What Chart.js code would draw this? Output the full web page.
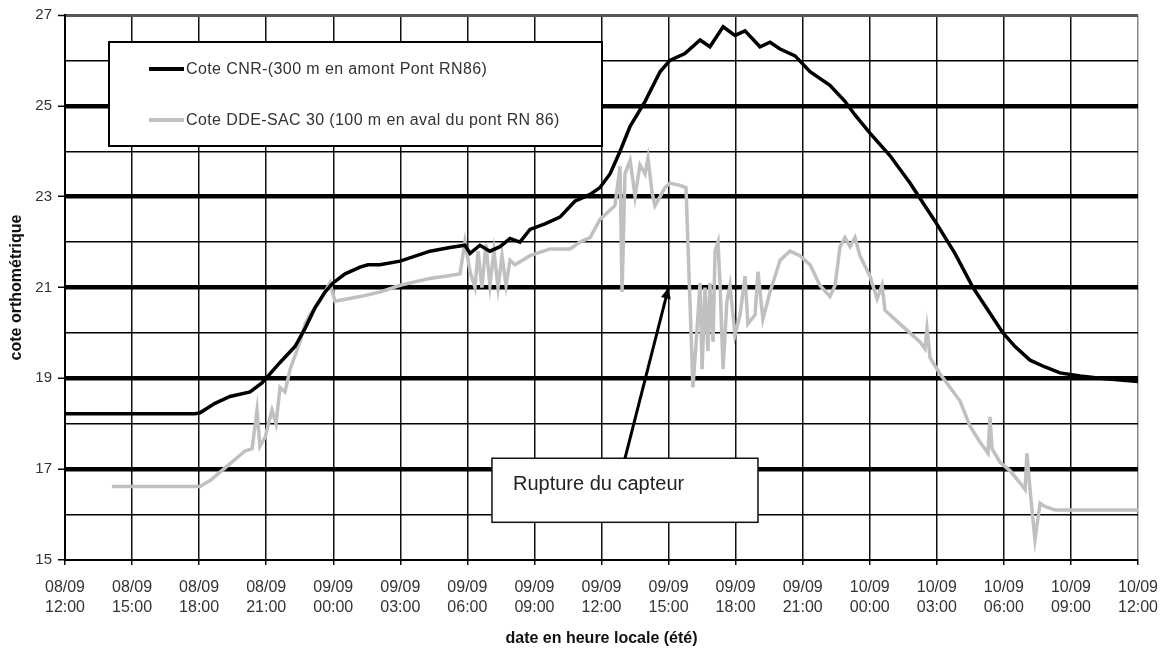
<!DOCTYPE html>
<html>
<head>
<meta charset="utf-8">
<script src="https://cdn.jsdelivr.net/npm/chart.js"></script>
<style>
  html, body { margin: 0; padding: 0; background: #fff; }
  #wrap { width: 1173px; height: 648px; }
</style>
</head>
<body>
<div id="wrap"><canvas id="c" width="1173" height="648"></canvas></div>
<script>
// ---- DATA (hours since 08/09 12:00, levels in m) ----
const xTickLabels = [
  ["08/09","12:00"],["08/09","15:00"],["08/09","18:00"],["08/09","21:00"],
  ["09/09","00:00"],["09/09","03:00"],["09/09","06:00"],["09/09","09:00"],
  ["09/09","12:00"],["09/09","15:00"],["09/09","18:00"],["09/09","21:00"],
  ["10/09","00:00"],["10/09","03:00"],["10/09","06:00"],["10/09","09:00"],
  ["10/09","12:00"]
];
const yTickLabels = ["15","17","19","21","23","25","27"];

const cnrLabel = "Cote CNR-(300 m en amont Pont RN86)";
const cnrHours = [0.00,5.82,6.04,6.71,7.38,8.28,8.81,9.17,9.62,10.29,10.74,11.18,11.63,11.99,12.53,12.75,13.20,13.55,14.09,14.99,16.33,17.22,17.89,18.12,18.56,19.01,19.46,19.91,20.35,20.80,21.47,22.14,22.81,23.49,23.93,24.38,24.83,25.28,25.95,26.62,27.06,27.73,28.41,28.85,29.44,29.97,30.42,31.09,31.54,31.99,32.66,33.33,34.22,34.89,35.34,36.01,36.91,37.80,38.92,39.81,40.62,41.29,41.96,42.50,43.17,43.84,44.51,45.41,46.30,48.00];
const cnrLevels = [18.22,18.22,18.24,18.45,18.60,18.70,18.90,19.10,19.35,19.70,20.10,20.55,20.90,21.10,21.30,21.35,21.45,21.50,21.50,21.58,21.80,21.88,21.93,21.75,21.93,21.80,21.90,22.08,22.00,22.28,22.40,22.55,22.90,23.05,23.20,23.50,24.00,24.55,25.10,25.75,26.00,26.15,26.45,26.30,26.74,26.55,26.65,26.30,26.40,26.25,26.10,25.75,25.45,25.10,24.80,24.40,23.90,23.30,22.46,21.75,21.00,20.50,20.00,19.70,19.40,19.25,19.12,19.05,19.00,18.93];

const ddeLabel = "Cote DDE-SAC 30 (100 m en aval du pont RN 86)";
const ddeHours = [2.10,6.04,6.49,7.07,8.05,8.37,8.59,8.72,8.95,9.26,9.44,9.62,9.84,10.07,10.51,10.74,10.96,11.41,11.85,12.08,13.20,14.09,14.99,16.33,17.67,17.89,18.12,18.34,18.48,18.65,18.83,19.01,19.19,19.37,19.55,19.73,19.91,20.13,20.80,21.70,22.59,23.04,23.49,23.93,24.60,24.83,24.92,25.05,25.28,25.50,25.72,25.95,26.08,26.26,26.39,26.62,26.84,27.06,27.51,27.78,28.09,28.27,28.41,28.50,28.63,28.76,28.85,28.99,29.08,29.21,29.30,29.44,29.61,29.75,29.97,30.20,30.42,30.55,30.87,31.00,31.22,31.54,31.99,32.43,32.88,33.33,33.77,34.22,34.45,34.67,34.89,35.12,35.34,35.56,36.01,36.33,36.55,36.68,37.35,38.25,38.47,38.56,38.70,39.14,40.04,40.48,40.93,41.29,41.38,41.47,41.83,42.27,42.72,42.95,43.03,43.17,43.39,43.62,43.84,44.29,48.00];
const ddeLevels = [16.62,16.62,16.75,16.99,17.40,17.45,18.30,17.50,17.70,18.30,18.00,18.80,18.70,19.20,19.80,20.20,20.40,20.70,21.10,20.70,20.80,20.90,21.05,21.20,21.30,22.00,21.35,21.00,21.80,21.00,21.95,21.05,21.80,21.00,21.70,21.05,21.60,21.50,21.70,21.85,21.85,22.00,22.10,22.50,22.80,23.67,20.90,23.50,23.80,23.00,23.70,23.50,23.85,23.10,22.80,23.00,23.20,23.30,23.25,23.20,18.80,20.05,21.10,19.20,21.00,19.60,21.10,19.80,21.80,22.00,21.10,19.20,20.70,21.05,19.95,20.40,21.25,20.20,20.40,21.35,20.30,20.90,21.60,21.80,21.70,21.50,21.05,20.80,21.05,21.90,22.10,21.90,22.10,21.70,21.25,20.75,21.05,20.50,20.20,19.80,19.65,20.10,19.45,19.10,18.50,17.95,17.60,17.35,18.15,17.45,17.15,16.97,16.70,16.55,17.35,16.55,15.45,16.25,16.18,16.10,16.10];

const annotationText = "Rupture du capteur";
const arrowTip = {x: 27, y: 21};
const arrowStart = {x: 25.05, y: 17.24};
const annotationBox = {x0: 19.1, x1: 31.0, y0: 17.24, y1: 15.83};

// ---- CHART ----
const FONT = "'Liberation Sans', Arial, sans-serif";
Chart.defaults.font.family = FONT;

const toPts = (xs, ys) => xs.map((x, i) => ({x, y: ys[i]}));

const overlayPlugin = {
  id: 'overlay',
  afterDraw(chart) {
    const ctx = chart.ctx;
    const xs = chart.scales.x, ys = chart.scales.y;
    ctx.save();
    // Legend box
    const lx = 109, ly = 42, lw = 493, lh = 104;
    ctx.fillStyle = '#fff';
    ctx.fillRect(lx, ly, lw, lh);
    ctx.strokeStyle = '#000';
    ctx.lineWidth = 2;
    ctx.strokeRect(lx, ly, lw, lh);
    const items = [
      {label: cnrLabel, color: chart.data.datasets[0].borderColor, y: 69},
      {label: ddeLabel, color: chart.data.datasets[1].borderColor, y: 120}
    ];
    ctx.font = '16px ' + FONT;
    try { ctx.letterSpacing = '0.4px'; } catch (e) {}
    ctx.textBaseline = 'middle';
    ctx.textAlign = 'left';
    items.forEach(it => {
      ctx.strokeStyle = it.color;
      ctx.lineWidth = 4;
      ctx.beginPath();
      ctx.moveTo(149, it.y);
      ctx.lineTo(184, it.y);
      ctx.stroke();
      ctx.fillStyle = '#333';
      ctx.fillText(it.label, 186, it.y + 1);
    });
    try { ctx.letterSpacing = '0px'; } catch (e) {}

    // Annotation box
    const bx0 = xs.getPixelForValue(annotationBox.x0), bx1 = xs.getPixelForValue(annotationBox.x1);
    const by0 = ys.getPixelForValue(annotationBox.y0), by1 = ys.getPixelForValue(annotationBox.y1);
    ctx.fillStyle = '#fff';
    ctx.fillRect(bx0, by0, bx1 - bx0, by1 - by0);
    ctx.strokeStyle = '#111';
    ctx.lineWidth = 1.5;
    ctx.strokeRect(bx0, by0, bx1 - bx0, by1 - by0);
    ctx.fillStyle = '#222';
    ctx.font = '20px ' + FONT;
    ctx.textBaseline = 'middle';
    ctx.fillText(annotationText, bx0 + 21, (by0 + by1) / 2 - 6);

    // Arrow
    const ax0 = xs.getPixelForValue(arrowStart.x), ay0 = ys.getPixelForValue(arrowStart.y);
    const ax1 = xs.getPixelForValue(arrowTip.x), ay1 = ys.getPixelForValue(arrowTip.y);
    ctx.strokeStyle = '#000';
    ctx.lineWidth = 3;
    ctx.beginPath();
    ctx.moveTo(ax0, ay0);
    ctx.lineTo(ax1, ay1);
    ctx.stroke();
    const ang = Math.atan2(ay1 - ay0, ax1 - ax0);
    const L = 11, W = 5;
    ctx.fillStyle = '#000';
    ctx.beginPath();
    ctx.moveTo(ax1, ay1);
    ctx.lineTo(ax1 - L * Math.cos(ang) + W * Math.sin(ang), ay1 - L * Math.sin(ang) - W * Math.cos(ang));
    ctx.lineTo(ax1 - L * Math.cos(ang) - W * Math.sin(ang), ay1 - L * Math.sin(ang) + W * Math.cos(ang));
    ctx.closePath();
    ctx.fill();
    ctx.restore();
  }
};

new Chart(document.getElementById('c'), {
  type: 'line',
  data: {
    datasets: [
      {label: cnrLabel, data: toPts(cnrHours, cnrLevels), borderColor: '#000', borderWidth: 3.5, pointRadius: 0, tension: 0},
      {label: ddeLabel, data: toPts(ddeHours, ddeLevels), borderColor: '#c0c0c0', borderWidth: 3.5, pointRadius: 0, tension: 0}
    ]
  },
  options: {
    responsive: false,
    animation: false,
    layout: {padding: {top: 13, right: 35, left: 0, bottom: 0}},
    plugins: {legend: {display: false}, tooltip: {enabled: false}},
    scales: {
      x: {
        type: 'linear', min: 0, max: 48,
        afterFit: s => { s.height = 88; },
        afterBuildTicks: s => { s.ticks = xTickLabels.map((_, i) => ({value: i * 3})); },
        ticks: {
          stepSize: 3, autoSkip: false, maxRotation: 0, padding: 12,
          color: '#333', font: {size: 16, lineHeight: 1.27},
          callback: (v) => xTickLabels[Math.round(v / 3)]
        },
        grid: {
          color: ctx => (ctx.tick && ctx.tick.value === 48) ? '#888' : '#111',
          lineWidth: 1.5, tickLength: 5, tickColor: '#111', tickWidth: 1.5
        },
        border: {display: true, color: '#000', width: 2},
        title: {display: true, text: 'date en heure locale (été)', color: '#111',
                font: {size: 16, weight: 'bold'}, padding: {top: 0, bottom: 0}}
      },
      y: {
        type: 'linear', min: 15, max: 27,
        afterFit: s => { s.width = 65; },
        afterBuildTicks: s => { const t = []; for (let v = 15; v <= 27; v++) t.push({value: v}); s.ticks = t; },
        ticks: {
          autoSkip: false, padding: 6, color: '#333', font: {size: 15},
          callback: (v) => yTickLabels.indexOf(String(v)) >= 0 ? String(v) : ''
        },
        grid: {
          color: ctx => (ctx.tick && ctx.tick.value === 27) ? '#555' : '#000',
          lineWidth: ctx => {
            const v = ctx.tick ? ctx.tick.value : 0;
            if (v === 27) return 3;
            if (v === 15) return 1.5;
            return (v % 2 === 1) ? 4.5 : 1.5;
          },
          tickLength: 7, tickWidth: 1.5,
          tickColor: ctx => (ctx.tick && ctx.tick.value % 2 === 1) ? '#000' : 'rgba(0,0,0,0)'
        },
        border: {display: true, color: '#000', width: 2},
        title: {display: true, text: 'cote orthométrique', color: '#111',
                font: {size: 16, weight: 'bold'}, padding: {top: 7, bottom: 0}}
      }
    }
  },
  plugins: [overlayPlugin]
});
</script>
</body>
</html>
